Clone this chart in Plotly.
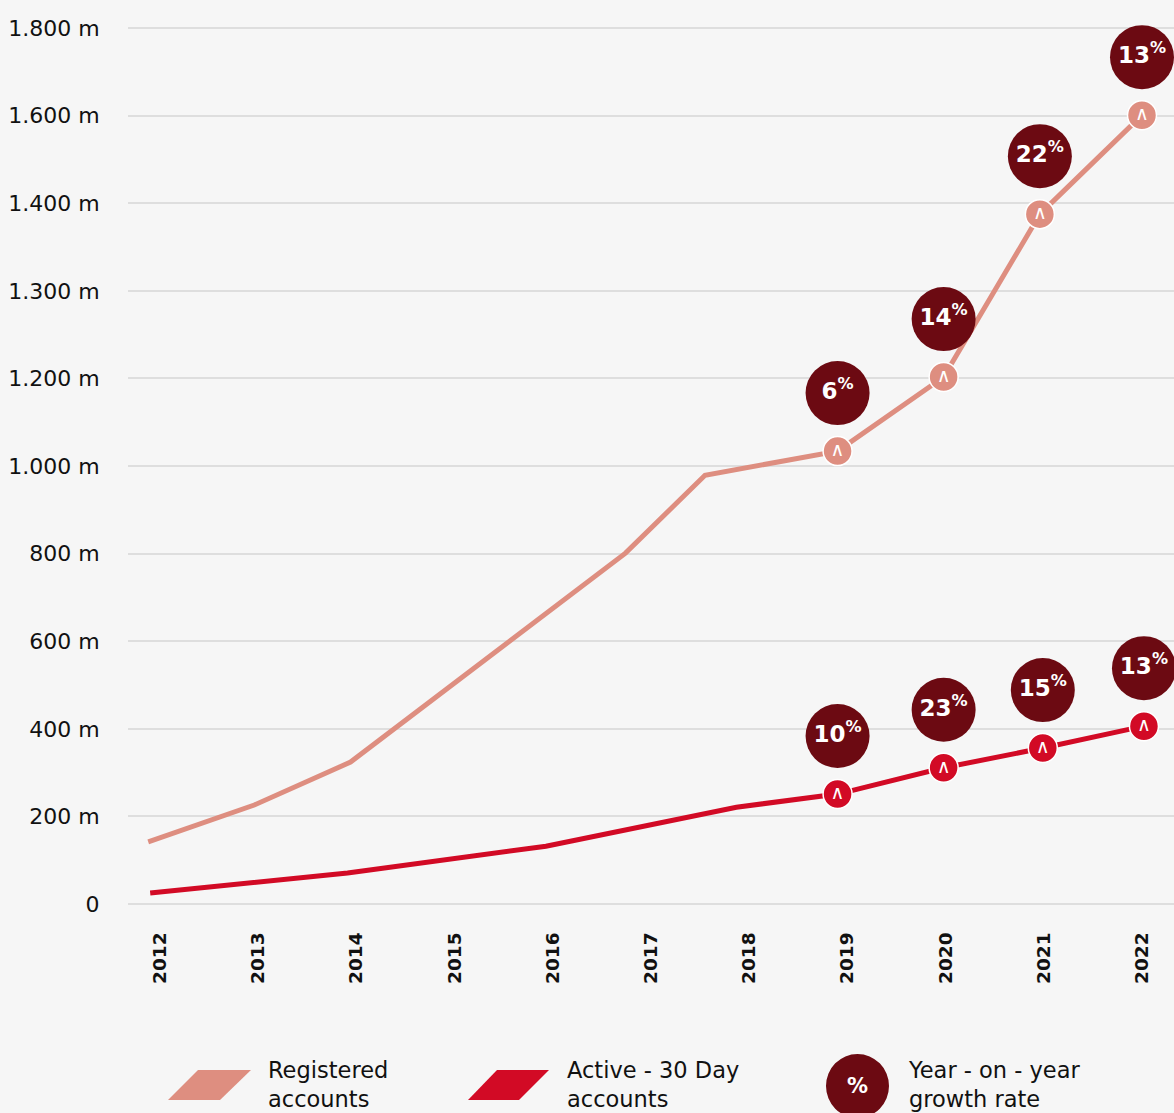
import plotly.graph_objects as go

# ---------------- data ----------------
years = [2012, 2013, 2014, 2015, 2016, 2017, 2018, 2019, 2020, 2021, 2022]
y_tick_vals = [0, 200, 400, 600, 800, 1000, 1200, 1400, 1600, 1800, 2000]
y_tick_text = ["0", "200 m", "400 m", "600 m", "800 m", "1.000 m", "1.200 m",
               "1.300 m", "1.400 m", "1.600 m", "1.800 m"]

reg_x = [2011.88, 2012.96, 2013.94, 2016.74, 2017.55, 2018.90, 2019.98, 2020.96, 2022.00]
reg_y = [142, 226, 324, 801, 979, 1034, 1203, 1575, 1801]

act_x = [2011.90, 2013.91, 2015.93, 2017.87, 2018.90, 2019.98, 2020.99, 2022.02]
act_y = [25, 71, 132, 221, 251, 311, 356, 406]

reg_growth = [6, 14, 22, 13]
act_growth = [10, 23, 15, 13]

legend_labels = ["Registered<br>accounts", "Active - 30 Day<br>accounts", "Year - on - year<br>growth rate"]

# ---------------- style ----------------
REG = "#DE8E80"
ACT = "#D20A25"
BUB = "#6C0A12"
BG = "#F6F6F6"
GRID = "#DEDEDE"
FONT = "DejaVu Sans"

W, H = 1174, 1113
ML, MR, MT, MB = 128, 0, 25, 206
PW, PH = W - ML - MR, H - MT - MB
Y_MAX = 2000
PAD_PX = 3                                  # keep edge grid lines inside the plot area
UNIT_PX = (PH - 2 * PAD_PX) / Y_MAX
Y_PAD = PAD_PX / UNIT_PX
BUBBLE_SHIFT = 58 / UNIT_PX                 # bubble sits 58 px above its point


def px(xp):
    return (xp - ML) / PW


def py(yp):
    return (H - MB - yp) / PH


fig = go.Figure()

fig.add_trace(go.Scatter(x=reg_x, y=reg_y, mode="lines",
                         line=dict(color=REG, width=5), cliponaxis=False, hoverinfo="skip"))
fig.add_trace(go.Scatter(x=act_x, y=act_y, mode="lines",
                         line=dict(color=ACT, width=5), cliponaxis=False, hoverinfo="skip"))

n = len(reg_growth)
fig.add_trace(go.Scatter(x=reg_x[-n:], y=reg_y[-n:], mode="markers",
                         marker=dict(size=29, color=REG, line=dict(color="white", width=1.5)),
                         cliponaxis=False, hoverinfo="skip"))
fig.add_trace(go.Scatter(x=act_x[-n:], y=act_y[-n:], mode="markers",
                         marker=dict(size=29, color=ACT, line=dict(color="white", width=1.5)),
                         cliponaxis=False, hoverinfo="skip"))

# chevrons inside markers
fig.add_trace(go.Scatter(x=reg_x[-n:] + act_x[-n:], y=reg_y[-n:] + act_y[-n:], mode="text",
                         text=["∧"] * (2 * n), textposition="middle center",
                         textfont=dict(family="DejaVu Sans", size=19, color="white"),
                         cliponaxis=False, hoverinfo="skip"))

# growth bubbles
bx = reg_x[-n:] + act_x[-n:]
by = [v + BUBBLE_SHIFT for v in reg_y[-n:] + act_y[-n:]]
bt = [f"<b>{g}<sup>%</sup></b>" for g in reg_growth + act_growth]
fig.add_trace(go.Scatter(x=bx, y=by, mode="markers+text", text=bt,
                         textposition="middle center",
                         textfont=dict(family=FONT, size=23, color="white"),
                         marker=dict(size=64, color=BUB),
                         cliponaxis=False, hoverinfo="skip"))

# ---------------- legend (drawn) ----------------
shapes = []
swatches = [((168, 1100), (220, 1100), (251, 1070), (198, 1070), REG),
            ((468, 1100), (519, 1100), (549, 1070), (497, 1070), ACT)]
for a, b, c, d, col in swatches:
    path = "M {} {} L {} {} L {} {} L {} {} Z".format(px(a[0]), py(a[1]), px(b[0]), py(b[1]),
                                                      px(c[0]), py(c[1]), px(d[0]), py(d[1]))
    shapes.append(dict(type="path", xref="paper", yref="paper", path=path,
                       fillcolor=col, line=dict(width=0), layer="above"))
shapes.append(dict(type="circle", xref="paper", yref="paper",
                   x0=px(826), x1=px(889), y0=py(1118), y1=py(1054),
                   fillcolor=BUB, line=dict(width=0), layer="above"))

annotations = []
for xt, lab in zip([266, 565, 906], legend_labels):
    annotations.append(dict(xref="paper", yref="paper", x=px(xt), y=py(1084),
                            xanchor="left", yanchor="middle", align="left",
                            text=lab, showarrow=False,
                            font=dict(family=FONT, size=22.5, color="#111111")))
annotations.append(dict(xref="paper", yref="paper", x=px(857), y=py(1086),
                        xanchor="center", yanchor="middle", text="<b>%</b>", showarrow=False,
                        font=dict(family=FONT, size=21, color="white")))

fig.update_layout(
    width=W, height=H,
    margin=dict(l=ML, r=MR, t=MT, b=MB),
    paper_bgcolor=BG, plot_bgcolor=BG,
    showlegend=False,
    shapes=shapes, annotations=annotations,
    font=dict(family=FONT, color="#111111"),
    xaxis=dict(range=[2011.674, 2022.326], tickmode="array", tickvals=years,
               ticktext=[f"<b>{y}</b>" for y in years], tickangle=-90,
               tickfont=dict(family=FONT, size=18.5, color="#111111"),
               showgrid=False, zeroline=False, showline=False,
               ticks="outside", ticklen=17, tickcolor="rgba(0,0,0,0)"),
    yaxis=dict(range=[-Y_PAD, Y_MAX + Y_PAD], tickmode="array", tickvals=y_tick_vals,
               ticktext=y_tick_text,
               tickfont=dict(family=FONT, size=22, color="#111111"),
               showgrid=True, gridcolor=GRID, gridwidth=2, zeroline=False, showline=False,
               ticks="outside", ticklen=23, tickcolor="rgba(0,0,0,0)"),
)

fig.write_html("out.html", config={"displayModeBar": False},
               post_script="document.body.style.margin='0';document.body.style.background='#F6F6F6';")
